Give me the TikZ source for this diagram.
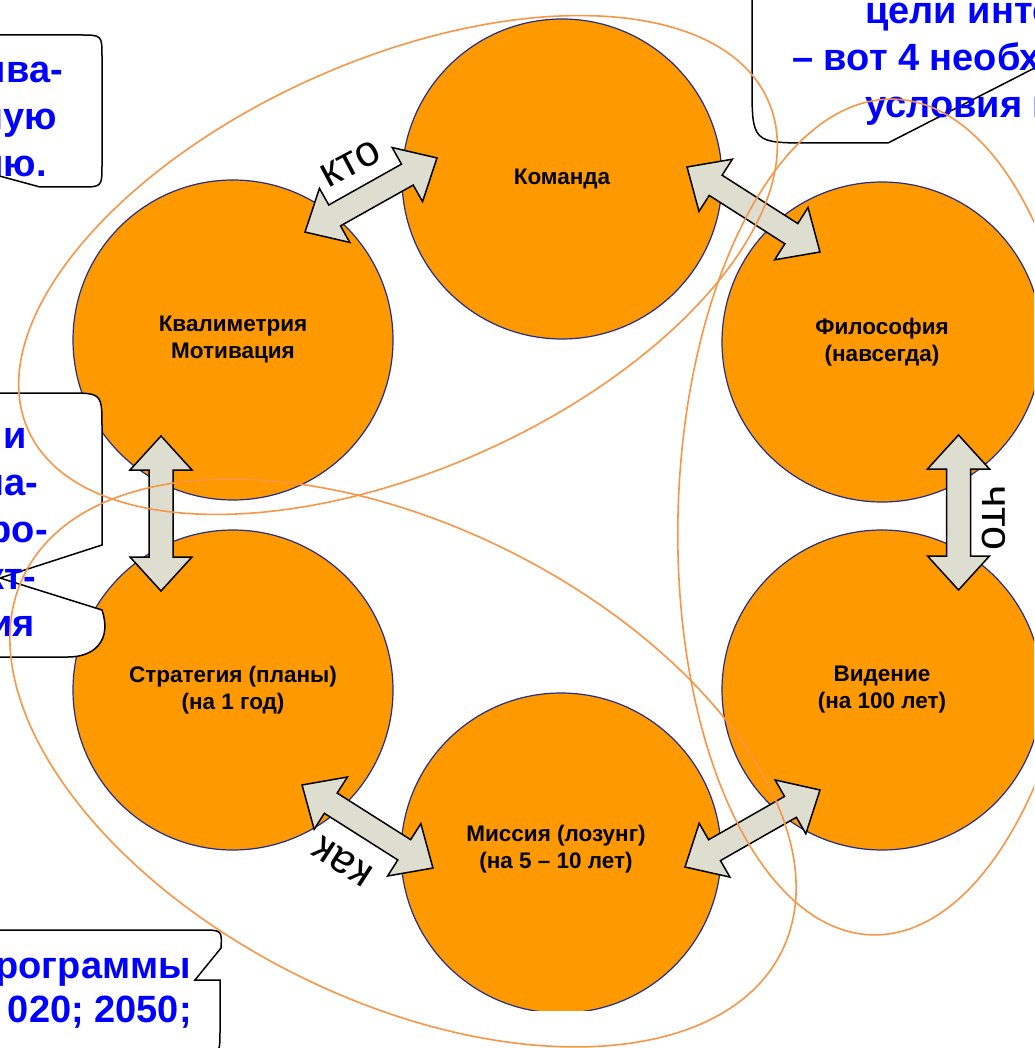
\documentclass[tikz,border=0pt]{standalone}
\usepackage{fontspec}
\setmainfont{Liberation Sans}
\definecolor{circfill}{RGB}{255,153,0}
\definecolor{circline}{RGB}{35,45,140}
\definecolor{ellcol}{RGB}{247,150,70}
\definecolor{arrfill}{RGB}{221,222,208}
\definecolor{calltext}{RGB}{0,0,255}
\newcommand\dblarrowshape[4]{%
\begin{scope}[shift={(#1,#2)}, rotate=#3]
\draw[arrowbox] (-#4,0) -- ({-#4+34},31) -- ({-#4+34},12) -- ({#4-34},12) -- ({#4-34},31) -- (#4,0) -- ({#4-34},-31) -- ({#4-34},-12) -- ({-#4+34},-12) -- ({-#4+34},-31) -- cycle;
\end{scope}}
\begin{document}
\begin{tikzpicture}[x=1pt,y=-1pt,
 circ/.style={circle, draw=circline, line width=1.2pt, fill=circfill, minimum size=320pt, inner sep=0pt, align=center, font=\fontsize{22.5}{27}\selectfont\bfseries},
 ell/.style={draw=ellcol, line width=1.6pt},
 arrowbox/.style={draw=black, line width=1.5pt, fill=arrfill, line join=miter},
 callout/.style={draw=black, line width=1.5pt, fill=white},
 ctext/.style={text=calltext, font=\fontsize{38}{47}\selectfont\bfseries, inner sep=0pt, anchor=base east},
 ctextw/.style={text=calltext, font=\fontsize{38}{47}\selectfont\bfseries, inner sep=0pt, anchor=base west},
 qlabel/.style={font=\fontsize{43}{50}\selectfont, inner sep=0pt}]
\clip (0,0) rectangle (1034,1048);
\fill[white] (0,0) rectangle (1034,1048);
% circles
\node[circ] (kom) at (562,179) {Команда};
\node[circ] (fil) at (882,342) {Философия\\(навсегда)};
\node[circ] (kval) at (233,340) {Квалиметрия\\Мотивация};
\node[circ] (str) at (233,690) {Стратегия (планы)\\(на 1 год)};
\node[circ] (vid) at (882,690) {Видение\\(на 100 лет)};
\begin{scope}
\clip (0,0) rectangle (1034,1010);
\node[circ] (mis) at (561,853) {};
\end{scope}
\node[font=\fontsize{22.5}{27}\selectfont\bfseries, align=center, inner sep=0pt] (mistext) at (556,849) {Миссия (лозунг)\\(на 5 – 10 лет)};
% arrows
\dblarrowshape{371}{195}{29.3}{75.7}
\dblarrowshape{753.5}{209.5}{-32.6}{78.9}
\dblarrowshape{958.5}{512.5}{90}{77.5}
\dblarrowshape{161}{513.5}{90}{77.5}
\dblarrowshape{367.5}{826.5}{-32.4}{77.5}
\dblarrowshape{752.5}{828.5}{29.7}{77.7}
% arrow labels
\node[qlabel, rotate=28] (kto) at (351,164) {кто};
\node[qlabel, rotate=-90] (chto) at (994,518) {что};
\node[qlabel, rotate=147] (kak) at (343,862) {как};
% callouts
\draw[callout] (-40,35) -- (80,35) .. controls (102,35) .. (102,57) -- (102,165) .. controls (102,187) .. (80,187) -- (40,187) -- (-30,168) -- cycle;
\node[ctext] (tl1) at (63,83) {ива-};
\node[ctext] (tl2) at (57,130) {ную};
\node[ctext] (tl3) at (47,177) {ию.};
\draw[callout] (752,-40) -- (752,83) .. controls (752,143) .. (812,143) -- (888,143) -- (1060,55) -- (1060,-40) -- cycle;
\node[ctextw] (tr1) at (865,24) {цели инте};
\node[ctextw] (tr2) at (792,71) {– вот 4 необх};
\node[ctextw] (tr3) at (865,118) {условия н};
\draw[callout] (-40,393) -- (67,393) .. controls (102,393) .. (102,428) -- (102,545) -- (0,578) -- (102,610) .. controls (112,640) and (95,657) .. (68,657) -- (-40,657) -- cycle;
\node[ctext] (lm1) at (27,448) {и};
\node[ctext] (lm2) at (38,495) {на-};
\node[ctext] (lm3) at (48,542) {ро-};
\node[ctext] (lm4) at (36,589) {кт-};
\node[ctext] (lm5) at (35,636) {ия};
\draw[callout] (-40,930) -- (200,930) .. controls (222,930) .. (221,948) -- (195,980) -- (220,980) -- (220,1030) .. controls (220,1055) .. (195,1055) -- (-40,1055) -- cycle;
\node[ctext] (bl1) at (191,978) {рограммы};
\node[ctext] (bl2) at (192,1022) {020; 2050;};
% ellipses
\draw[ell, rotate around={24:(398,265)}] (398,265) ellipse [x radius=405, y radius=205];
\draw[ell, rotate around={-26.5:(403,763)}] (403,763) ellipse [x radius=423, y radius=237];
\draw[ell, rotate around={-1.5:(883,517)}] (883,517) ellipse [x radius=205, y radius=418];
\end{tikzpicture}
\end{document}
